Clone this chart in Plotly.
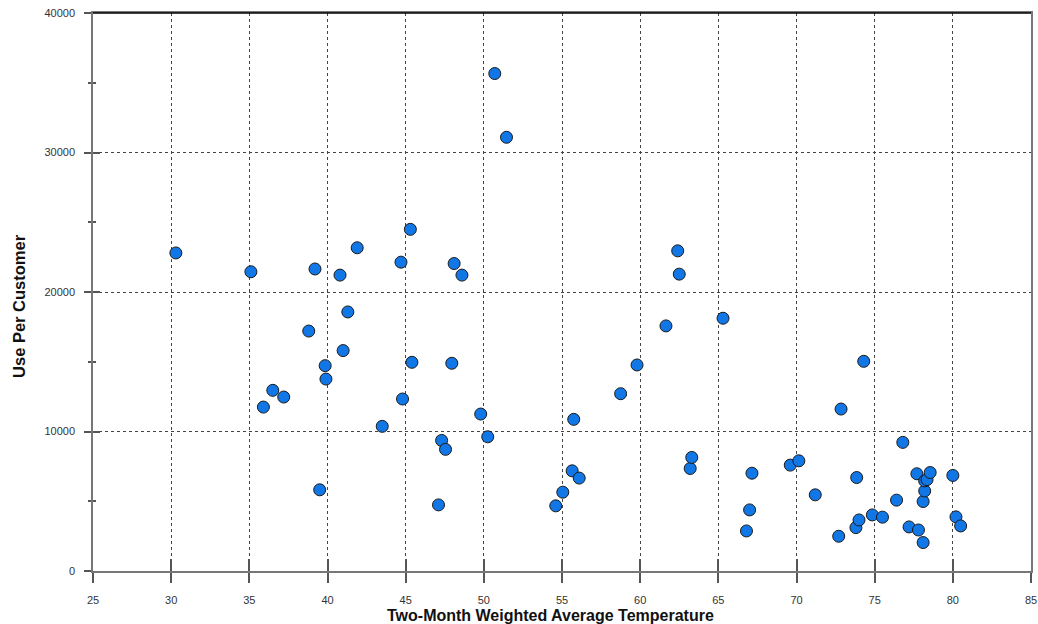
import plotly.graph_objects as go

temperature = [30.3, 35.1, 35.9, 36.5, 37.2, 38.8, 39.2, 39.5, 39.85, 39.9,
               40.8, 41.0, 41.3, 41.9, 43.5, 44.7, 44.8, 45.3, 45.4, 47.1,
               47.3, 47.55, 47.95, 48.1, 48.6, 49.8, 50.25, 50.7, 51.45, 54.6,
               55.05, 55.65, 55.75, 56.1, 58.75, 59.8, 61.65, 62.4, 62.5, 63.2,
               63.3, 65.3, 66.8, 67.0, 67.15, 69.6, 70.15, 71.2, 72.7, 72.85,
               73.8, 73.85, 74.0, 74.3, 74.85, 75.5, 76.4, 76.8, 77.2, 77.7,
               77.8, 78.1, 78.1, 78.2, 78.2, 78.35, 78.55, 80.0, 80.2, 80.5]
use_per_customer = [22800, 21450, 11750, 12950, 12470, 17200, 21650, 5820, 14720, 13760,
                    21210, 15800, 18570, 23170, 10370, 22140, 12330, 24490, 14960, 4740,
                    9360, 8720, 14890, 22040, 21210, 11250, 9620, 35660, 31090, 4670,
                    5650, 7180, 10870, 6660, 12710, 14770, 17570, 22950, 21280, 7350,
                    8140, 18120, 2870, 4380, 7010, 7590, 7900, 5460, 2490, 11610,
                    3110, 6700, 3660, 15030, 4020, 3860, 5080, 9220, 3160, 6970,
                    2940, 2040, 4980, 5740, 6460, 6550, 7060, 6850, 3880, 3230]

x_ticks = [25, 30, 35, 40, 45, 50, 55, 60, 65, 70, 75, 80, 85]
y_ticks = [0, 10000, 20000, 30000, 40000]
y_tick_labels = ["0", "10000", "20000", "30000", "40000"]
x_title = "Two-Month Weighted Average Temperature"
y_title = "Use Per Customer"

fig = go.Figure()
fig.add_trace(go.Scatter(
    x=temperature, y=use_per_customer, mode="markers",
    marker=dict(size=12, color="#1177E6", line=dict(color="#1a1a1a", width=1)),
    showlegend=False, hoverinfo="x+y"))
# invisible trace to activate overlay axes
fig.add_trace(go.Scatter(x=[None], y=[None], xaxis="x2", yaxis="y2", showlegend=False))

font_family = "Arial, Liberation Sans, sans-serif"
tickfont = dict(family=font_family, size=11, color="#333333")
grid = dict(showgrid=True, gridcolor="#444444", gridwidth=1, griddash="3px,3px")

fig.update_layout(
    width=1038, height=624,
    paper_bgcolor="white", plot_bgcolor="white",
    margin=dict(l=93, r=7, t=13, b=53, autoexpand=False),
    xaxis=dict(range=[25, 85], tickvals=x_ticks, ticks="outside", ticklen=10,
               tickcolor="#555555", tickwidth=1.5, automargin=False,
               ticklabeloverflow="allow",
               showline=True, linecolor="#777777", linewidth=1.5, mirror=True,
               zeroline=False, tickfont=tickfont, ticklabelstandoff=8,
               **grid),
    yaxis=dict(range=[0, 40000], tickvals=y_ticks, ticktext=y_tick_labels,
               ticks="outside", ticklen=7, automargin=False,
               ticklabeloverflow="allow",
               tickcolor="#555555", tickwidth=1.5,
               minor=dict(dtick=5000, tick0=0, ticks="outside", ticklen=3, tickcolor="#555555", showgrid=False),
               showline=True, linecolor="#777777", linewidth=1.5, mirror=True,
               zeroline=False, tickfont=tickfont, ticklabelstandoff=7,
               **grid),
    xaxis2=dict(overlaying="x", matches="x", range=[25, 85], tickvals=x_ticks,
                ticks="inside", ticklen=12, tickcolor="#555555", tickwidth=1.5,
                showticklabels=False, showgrid=False, zeroline=False, side="bottom",
                automargin=False),
    yaxis2=dict(overlaying="y", matches="y", range=[0, 40000], tickvals=y_ticks,
                ticks="inside", ticklen=7, tickcolor="#555555", tickwidth=1.5,
                minor=dict(dtick=5000, tick0=0, ticks="inside", ticklen=3, tickcolor="#555555"),
                showticklabels=False, showgrid=False, zeroline=False, side="left",
                automargin=False),
    shapes=[dict(type="line", xref="paper", yref="paper", x0=0, x1=1, y0=1, y1=1,
                 line=dict(color="#000000", width=1.5))],
    annotations=[
        dict(text="<b>" + x_title + "</b>", xref="paper", yref="paper",
             x=0.4875, y=0, yshift=-44, xanchor="center", yanchor="middle",
             showarrow=False, font=dict(family=font_family, size=16, color="#111111")),
        dict(text="<b>" + y_title + "</b>", xref="paper", yref="paper",
             x=0, xshift=-74, y=0.475, xanchor="center", yanchor="middle", textangle=-90,
             showarrow=False, font=dict(family=font_family, size=16.5, color="#111111")),
    ],
)

fig.write_html(
    "out.html",
    config={"displayModeBar": False},
    post_script="document.body.style.margin='0';"
                "document.documentElement.style.overflow='hidden';",
)
